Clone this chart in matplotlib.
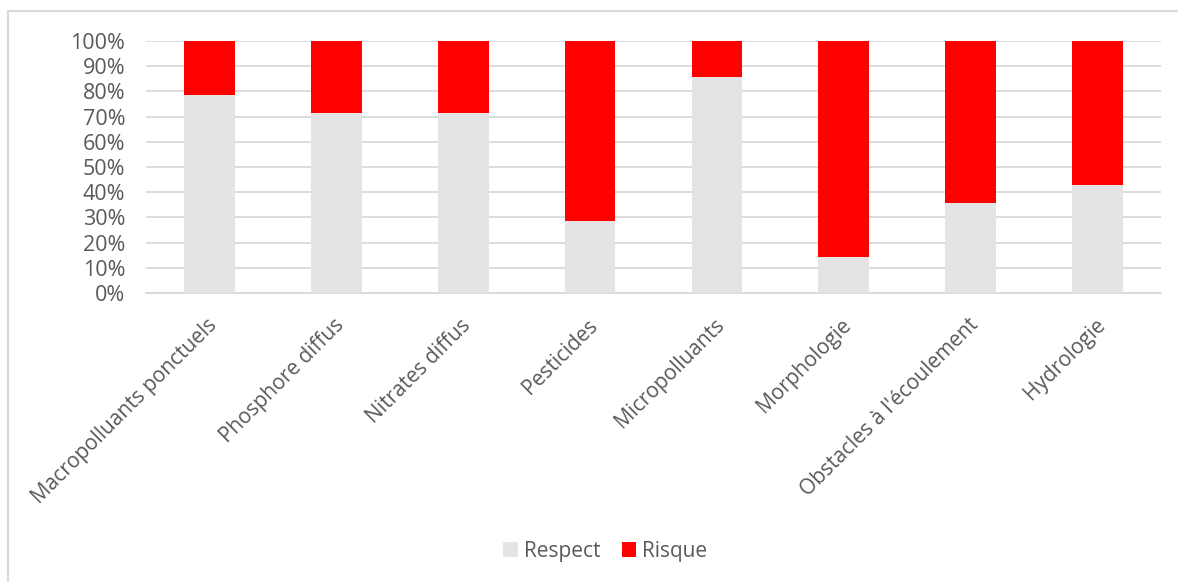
import matplotlib.pyplot as plt
import matplotlib.transforms as mtransforms
from matplotlib.patches import Rectangle
from matplotlib.ticker import PercentFormatter
import numpy as np

plt.rcParams['font.family'] = ['Open Sans', 'DejaVu Sans']

categories = ['Macropolluants ponctuels', 'Phosphore diffus', 'Nitrates diffus',
              'Pesticides', 'Micropolluants', 'Morphologie',
              "Obstacles à l'écoulement", 'Hydrologie']
respect = [11 / 14, 10 / 14, 10 / 14, 4 / 14, 12 / 14, 2 / 14, 5 / 14, 6 / 14]
risque = [1 - r for r in respect]

text_color = '#595959'
grid_color = '#d9d9d9'

fig = plt.figure(figsize=(11.78, 5.82), dpi=100)
ax = fig.add_axes([0.124, 0.4966, 0.8616, 0.433])

x = np.arange(len(categories))
ax.bar(x, respect, width=0.4, color='#e4e4e4', label='Respect', zorder=3)
ax.bar(x, risque, width=0.4, bottom=respect, color='#ff0000', label='Risque', zorder=3)

ax.set_xlim(-0.5, len(categories) - 0.5)
ax.set_ylim(0, 1)
ax.set_yticks(np.arange(0, 1.01, 0.1))
ax.yaxis.set_major_formatter(PercentFormatter(1.0, decimals=0))
ax.grid(axis='y', color=grid_color, linewidth=1.3, zorder=0)
ax.set_axisbelow(True)
for side in ['top', 'right', 'left']:
    ax.spines[side].set_visible(False)
ax.spines['bottom'].set_color(grid_color)
ax.spines['bottom'].set_linewidth(1.3)
ax.tick_params(axis='both', length=0, colors=text_color)
ax.tick_params(axis='y', labelsize=15.5, pad=15)
ax.tick_params(axis='x', labelsize=15)

ax.set_xticks(x)
ax.set_xticklabels(categories, rotation=45, ha='right', rotation_mode='anchor')
shift = mtransforms.ScaledTranslation(-0.03, -0.17, fig.dpi_scale_trans)
for lbl in ax.get_xticklabels():
    lbl.set_transform(lbl.get_transform() + shift)

leg = fig.legend(loc='center', bbox_to_anchor=(0.514, 0.053), ncol=2, frameon=False,
                 fontsize=15, handlelength=0.7, handleheight=0.7, handletextpad=0.3,
                 columnspacing=1.0)
for t in leg.get_texts():
    t.set_color(text_color)

# outer chart border
fig.patches.append(Rectangle((8 / 1178, -0.05), 1.1, 0.05 + 1 - 11 / 582,
                             transform=fig.transFigure, fill=False,
                             edgecolor=grid_color, linewidth=1.5))

fig.savefig('out.png', dpi=100)
